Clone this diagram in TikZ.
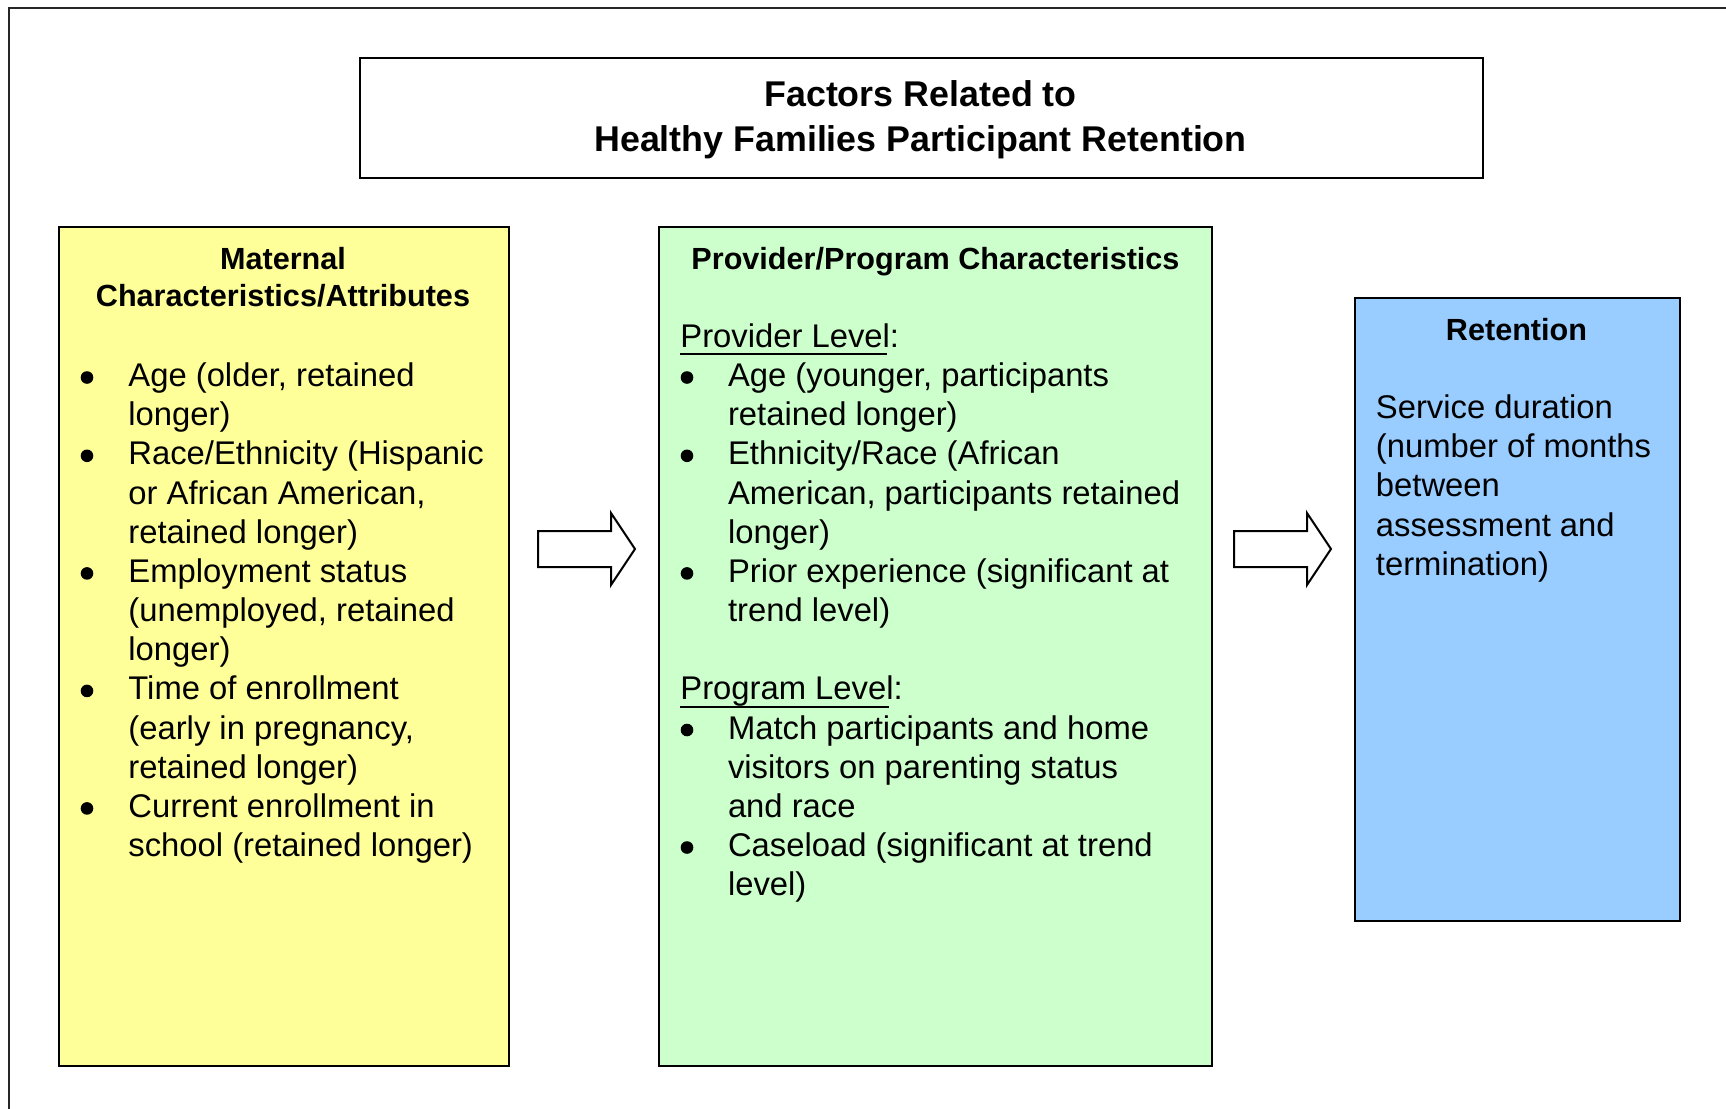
\documentclass[tikz,border=0pt]{standalone}
\usepackage{fontspec}
\setmainfont{Liberation Sans}
\definecolor{matyellow}{HTML}{FFFF99}
\definecolor{provgreen}{HTML}{CCFFCC}
\definecolor{retblue}{HTML}{99CCFF}
\tikzset{
  box/.style={draw=black, line width=1pt, inner sep=0pt, anchor=north west},
  body/.style={anchor=base west, inner sep=0pt, yshift=-0.75pt, font=\fontsize{16.4}{19.6}\selectfont},
  head/.style={anchor=base, inner sep=0pt, font=\fontsize{15.3}{18}\selectfont\bfseries},
  ttl/.style={anchor=base, inner sep=0pt, font=\fontsize{17.9}{22}\selectfont\bfseries},
  bul/.style={circle, fill=black, inner sep=0pt, minimum size=6.3pt},
  blockarrow/.style={draw=black, line width=1pt, fill=white, line join=miter},
  uline/.style={draw=black, line width=1pt}
}
\begin{document}
\begin{tikzpicture}[x=0.5pt,y=-0.5pt]
\useasboundingbox[fill=white] (0,0) rectangle (1726,1109);
% outer frame
\draw[line width=1pt, black!85] (9,1109) -- (9,8) -- (1726,8);
% boxes
\node[box, fill=white, minimum width=561.5pt, minimum height=60pt] (title) at (359,57) {};
\node[box, fill=matyellow, minimum width=225pt, minimum height=419.5pt] (mat) at (58,226) {};
\node[box, fill=provgreen, minimum width=276.5pt, minimum height=419.5pt] (prov) at (658,226) {};
\node[box, fill=retblue, minimum width=162.5pt, minimum height=311.5pt] (ret) at (1354,297) {};
% block arrows
\draw[blockarrow] (538,531) -- (611,531) -- (611,513) -- (635,549) -- (611,585) -- (611,567) -- (538,567) -- cycle;
\draw[blockarrow] (1234,531) -- (1307,531) -- (1307,513) -- (1331,549) -- (1307,585) -- (1307,567) -- (1234,567) -- cycle;
% title
\node[ttl] (t1) at (920.5,106) {Factors Related to};
\node[ttl] (t2) at (920.5,151) {Healthy Families Participant Retention};
% maternal box
\node[head] (mh1) at (283,269) {Maternal};
\node[head] (mh2) at (283,306) {Characteristics/Attributes};
\node[body] (m0) at (128,385) {Age (older, retained};
\node[body] (m1) at (128,424.2) {longer)};
\node[body] (m2) at (128,463.3) {Race/Ethnicity (Hispanic};
\node[body] (m3) at (128,502.5) {or African American,};
\node[body] (m4) at (128,541.7) {retained longer)};
\node[body] (m5) at (128,580.9) {Employment status};
\node[body] (m6) at (128,620) {(unemployed, retained};
\node[body] (m7) at (128,659.2) {longer)};
\node[body] (m8) at (128,698.4) {Time of enrollment};
\node[body] (m9) at (128,737.5) {(early in pregnancy,};
\node[body] (m10) at (128,776.7) {retained longer)};
\node[body] (m11) at (128,815.9) {Current enrollment in};
\node[body] (m12) at (128,855) {school (retained longer)};
\node[bul] (mb1) at (87,377.5) {};
\node[bul] (mb2) at (87,455.8) {};
\node[bul] (mb3) at (87,573.4) {};
\node[bul] (mb4) at (87,690.9) {};
\node[bul] (mb5) at (87,808.4) {};
% provider box
\node[head] (ph) at (935.5,269) {Provider/Program Characteristics};
\node[body] (pl) at (680,345.8) {Provider Level:};
\draw[uline] (680,354) -- (887,354);
\node[body] (p0) at (727.6,385) {Age (younger, participants};
\node[body] (p1) at (727.6,424.2) {retained longer)};
\node[body] (p2) at (727.6,463.3) {Ethnicity/Race (African};
\node[body] (p3) at (727.6,502.5) {American, participants retained};
\node[body] (p4) at (727.6,541.7) {longer)};
\node[body] (p5) at (727.6,580.9) {Prior experience (significant at};
\node[body] (p6) at (727.6,620) {trend level)};
\node[body] (gl) at (680,698.4) {Program Level:};
\draw[uline] (680,706.6) -- (889,706.6);
\node[body] (g0) at (727.6,737.5) {Match participants and home};
\node[body] (g1) at (727.6,776.7) {visitors on parenting status};
\node[body] (g2) at (727.6,815.9) {and race};
\node[body] (g3) at (727.6,855) {Caseload (significant at trend};
\node[body] (g4) at (727.6,894.2) {level)};
\node[bul] (pb1) at (687,377.5) {};
\node[bul] (pb2) at (687,455.8) {};
\node[bul] (pb3) at (687,573.4) {};
\node[bul] (gb1) at (687,730) {};
\node[bul] (gb2) at (687,847.5) {};
% retention box
\node[head] (rh) at (1516.5,340) {Retention};
\node[body] (r0) at (1375.5,417) {Service duration};
\node[body] (r1) at (1375.5,456.2) {(number of months};
\node[body] (r2) at (1375.5,495.3) {between};
\node[body] (r3) at (1375.5,534.5) {assessment and};
\node[body] (r4) at (1375.5,573.7) {termination)};
\end{tikzpicture}
\end{document}
